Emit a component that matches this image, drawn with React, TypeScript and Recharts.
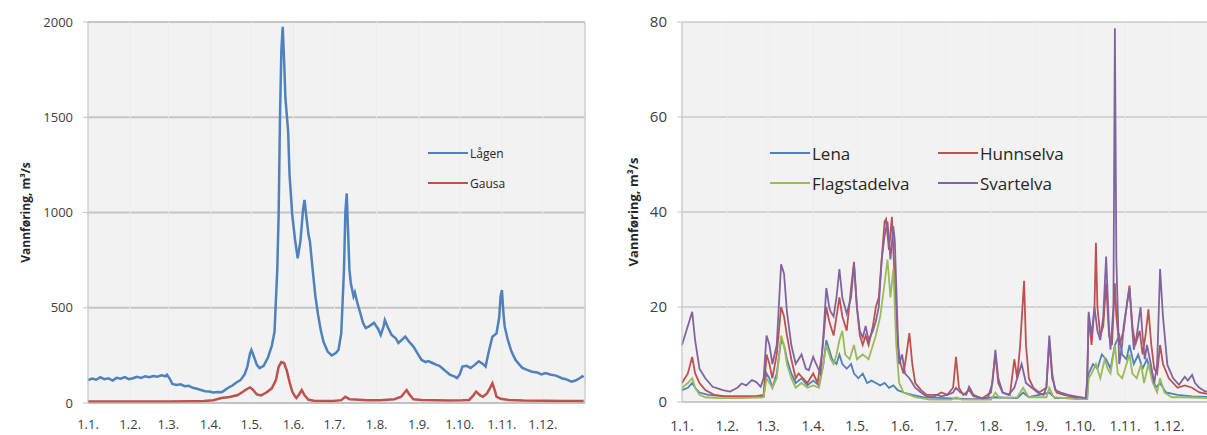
import React from 'react';
import { LineChart, Line, XAxis, YAxis, CartesianGrid, Legend, ReferenceLine } from 'recharts';

const FONT = '"Open Sans", "Liberation Sans", sans-serif';

// første dag i hver måned, dag 0 = 1. januar
const monthDays = [0, 31, 59, 90, 120, 151, 181, 212, 243, 273, 304, 334];
const monthLabels = ['1.1.', '1.2.', '1.3.', '1.4.', '1.5.', '1.6.', '1.7.', '1.8.', '1.9.', '1.10.', '1.11.', '1.12.'];

const bigRiverTicks = [0, 500, 1000, 1500, 2000];
const smallRiverTicks = [0, 20, 40, 60, 80];

// rekkefølge i tegnforklaringene
const bigRiverNames = ['Lågen', 'Gausa'];
const smallRiverNames = ['Lena', 'Hunnselva', 'Flagstadelva', 'Svartelva'];

// [dag, vannføring m³/s]
const lagen: [number, number][] = [
  [0, 120], [3, 128], [6, 122], [9, 135], [12, 125], [15, 130], [18, 118], [21, 132], [24, 128], [27, 136],
  [30, 125], [33, 130], [36, 138], [39, 132], [42, 140], [45, 135], [48, 142], [51, 138], [54, 145], [57, 140],
  [58, 148], [60, 128], [62, 100], [65, 95], [68, 98], [71, 88], [74, 90], [77, 80], [80, 75], [83, 68],
  [86, 62], [89, 60], [92, 55], [95, 58], [98, 56], [100, 65], [103, 80], [106, 92], [109, 108], [112, 120],
  [115, 150], [117, 190], [119, 260], [120, 278], [122, 240], [124, 200], [126, 183], [129, 195], [132, 236], [135, 300],
  [137, 375], [139, 700], [140, 987], [141, 1500], [142, 1850], [143, 1975], [144, 1800], [145, 1600], [147, 1424], [148, 1200],
  [150, 987], [152, 860], [154, 760], [156, 850], [158, 1020], [159, 1066], [160, 1000], [162, 880], [163, 847], [165, 700],
  [167, 560], [169, 462], [171, 380], [173, 320], [176, 270], [179, 250], [182, 262], [184, 280], [186, 367], [188, 700],
  [189, 1000], [190, 1100], [191, 900], [192, 700], [193, 630], [195, 560], [196, 580], [198, 520], [200, 472], [202, 420],
  [204, 393], [207, 405], [210, 421], [213, 390], [215, 357], [217, 400], [218, 435], [220, 400], [223, 357], [226, 340],
  [228, 315], [231, 335], [233, 348], [236, 320], [239, 296], [242, 260], [245, 226], [248, 215], [250, 220], [253, 210],
  [256, 200], [258, 195], [260, 184], [263, 165], [266, 147], [269, 140], [271, 131], [273, 150], [275, 191], [278, 195],
  [281, 184], [284, 200], [287, 219], [290, 205], [292, 191], [294, 260], [297, 348], [299, 360], [300, 365], [302, 450],
  [303, 560], [304, 593], [305, 480], [306, 402], [308, 340], [309, 315], [311, 270], [314, 226], [317, 200], [319, 184],
  [322, 175], [326, 164], [330, 160], [333, 150], [336, 157], [340, 148], [343, 145], [345, 140], [348, 130], [351, 125],
  [355, 112], [358, 118], [361, 130], [363, 140], [364, 135],
];

const gausa: [number, number][] = [
  [0, 8], [20, 8], [40, 8], [60, 8], [75, 9], [85, 10], [92, 15], [98, 26], [104, 32], [110, 42],
  [114, 60], [117, 75], [119, 82], [121, 70], [124, 45], [127, 40], [131, 55], [135, 77], [138, 120], [140, 190],
  [142, 215], [144, 210], [146, 170], [148, 110], [150, 60], [152, 35], [153, 26], [155, 45], [157, 68], [159, 40],
  [162, 17], [166, 12], [172, 10], [180, 10], [186, 15], [189, 33], [192, 20], [196, 18], [205, 14], [215, 14],
  [225, 20], [230, 33], [234, 68], [236, 45], [239, 20], [245, 16], [255, 14], [265, 13], [275, 14], [280, 16],
  [283, 40], [285, 60], [288, 40], [290, 33], [293, 50], [295, 75], [297, 104], [299, 60], [300, 33], [303, 22],
  [309, 16], [320, 13], [335, 12], [350, 11], [364, 10],
];

const lena: [number, number][] = [
  [0, 2.5], [4, 3], [7, 4], [9, 3], [12, 2], [18, 1.5], [30, 1.2], [45, 1.2], [56, 1.2], [58, 6],
  [60, 5], [62, 3], [65, 6], [68, 13], [70, 12], [72, 9], [75, 6], [78, 4], [82, 5], [86, 3.5],
  [90, 4.5], [94, 3.5], [97, 8], [99, 13], [101, 11], [103, 9], [106, 8], [108, 10], [110, 8], [113, 7],
  [116, 8], [118, 6], [121, 5], [124, 6], [127, 4], [130, 4.5], [133, 4], [136, 3.5], [139, 4], [142, 3],
  [145, 3.5], [148, 2.5], [152, 2], [158, 1.5], [165, 1], [180, 0.8], [200, 0.6], [215, 1], [230, 0.8], [234, 2],
  [238, 1], [252, 2], [256, 0.8], [278, 0.8], [279, 6], [282, 8], [285, 7], [288, 10], [291, 9], [294, 7],
  [297, 12], [300, 14], [302, 10], [305, 9], [307, 12], [310, 8], [313, 10], [316, 7], [319, 9], [322, 6],
  [325, 3], [328, 4], [332, 2], [340, 1.5], [350, 1.2], [364, 1],
];

const hunnselva: [number, number][] = [
  [0, 4], [4, 6], [7, 9.5], [9, 6], [12, 4], [16, 2.5], [22, 1.5], [30, 1.2], [40, 1.2], [50, 1.2],
  [56, 1.5], [58, 10], [60, 8], [62, 5], [65, 10], [68, 20], [70, 18], [72, 14], [75, 9], [78, 5],
  [80, 6], [83, 5], [86, 4], [90, 6], [93, 4], [96, 10], [99, 20], [101, 17], [104, 14], [106, 18],
  [108, 22], [110, 18], [113, 15], [116, 24], [118, 29.5], [120, 20], [122, 14], [124, 12], [126, 14], [128, 12],
  [131, 16], [133, 20], [135, 22], [137, 30], [139, 38], [140, 38.5], [142, 32], [144, 39], [146, 25], [148, 12],
  [150, 8], [152, 6], [154, 10], [156, 14.5], [158, 8], [160, 4], [164, 2.5], [168, 1.5], [175, 1.5], [178, 2],
  [182, 1.5], [186, 3], [188, 9.5], [190, 3], [193, 1.5], [197, 2.5], [200, 1.2], [206, 0.8], [212, 2], [215, 10],
  [217, 4], [220, 2], [225, 1.5], [228, 9], [230, 5], [232, 12], [234.7, 25.5], [236, 12], [238, 5], [241, 3],
  [245, 2], [250, 3], [252, 13], [254, 5], [257, 2], [262, 1.5], [270, 1], [277, 0.8], [278, 5], [279, 18],
  [281, 12], [283, 20], [284, 33.5], [285, 20], [287, 14], [289, 16], [291, 25], [293, 14], [295, 12], [297, 25],
  [298, 18], [300, 12], [303, 15], [305, 20], [307, 24.5], [309, 16], [311, 12], [314, 15], [316, 10], [318, 14],
  [320, 19.5], [322, 12], [324, 7], [326, 6], [328, 12], [330, 8], [334, 5], [340, 3], [345, 3.5], [350, 3],
  [355, 2], [364, 1.5],
];

const flagstadelva: [number, number][] = [
  [0, 3], [4, 4], [7, 5], [9, 3], [12, 1.5], [16, 1], [25, 0.8], [40, 0.8], [56, 1], [58, 5],
  [60, 4], [62, 3], [65, 5], [68, 14], [70, 12], [72, 8], [75, 5], [78, 3], [82, 4], [86, 3],
  [90, 3.5], [94, 3], [97, 8], [99, 12], [102, 9], [104, 8], [106, 10], [108, 13], [110, 15], [112, 10],
  [115, 9], [118, 12], [120, 9], [124, 10], [128, 9], [131, 12], [133, 14], [136, 18], [139, 25], [141, 30],
  [143, 22], [145, 28], [147, 12], [149, 4], [152, 2], [156, 1.5], [160, 1], [170, 0.5], [185, 0.5], [188, 1],
  [192, 0.5], [212, 0.5], [215, 2], [218, 0.8], [230, 1], [234, 3], [238, 1], [250, 1], [252, 3], [255, 1],
  [270, 0.6], [278, 0.6], [279, 5], [281, 6], [284, 8], [287, 5], [290, 9], [292, 7], [294, 6], [297, 12],
  [299, 6], [302, 5], [305, 8], [307, 10], [309, 6], [312, 5], [315, 8], [317, 4], [320, 8], [323, 4],
  [326, 2], [328, 5], [331, 2], [336, 1], [345, 1], [364, 0.8],
];

const svartelva: [number, number][] = [
  [0, 12], [3, 15], [5, 17], [7, 19], [9, 13], [12, 7], [16, 5], [21, 3.2], [28, 2.5], [33, 2.2],
  [38, 3], [41, 3.9], [44, 3.5], [48, 4.6], [51, 4.2], [54, 3.2], [56, 5], [58, 14], [60, 12], [62, 8],
  [65, 12], [68, 29], [70, 27], [72, 19], [75, 12], [78, 8], [80, 9], [82, 10], [85, 7], [87, 6.7],
  [90, 9.5], [92, 8], [95, 6], [97, 14], [99, 24], [101, 20], [102, 19], [104, 18], [106, 22], [108, 28],
  [110, 22], [113, 18.6], [116, 22], [118, 29], [120, 20], [122, 15], [124, 13.6], [126, 16], [128, 13], [131, 15],
  [133, 17], [135, 20], [137, 30], [139, 35], [141, 38], [143, 30], [145, 37], [146, 34], [148, 15], [149, 8],
  [151, 10], [153, 6], [156, 5], [160, 3], [164, 2], [168, 1.2], [172, 1], [175, 1.5], [178, 1.2], [182, 1.5],
  [186, 2], [188, 3], [191, 2], [195, 1.5], [197, 3.2], [200, 1.5], [206, 0.7], [210, 1], [213, 4], [215, 11],
  [217, 5], [220, 2], [224, 1.5], [228, 3], [231, 6], [233, 8], [236, 4], [240, 3], [244, 2], [248, 1.5],
  [250, 3], [252, 14], [254, 6], [256, 2.5], [260, 2], [265, 1.5], [270, 1.2], [277, 0.8], [278, 4], [279, 19],
  [281, 14], [283, 20], [285, 15], [287, 13], [289, 18], [291, 30.6], [293, 15], [294, 11], [296, 20], [297, 78.7],
  [298, 30], [300, 8], [302, 12], [303, 16], [305, 20], [307, 24], [309, 15], [310, 11], [312, 14], [314.6, 20],
  [316, 14], [317.5, 9], [319, 12], [321, 9], [324, 4], [326, 8], [328, 28], [330, 18], [333, 7.8], [337, 5],
  [341, 3.6], [343, 4.5], [345, 5.3], [347, 4.5], [350, 5.7], [352, 4], [355, 3], [359, 2.2], [364, 2.5],
];

const toPoints = (rows: [number, number][]) => rows.map(([day, q]) => ({ day, q }));

const monthLabel = (day: number) => monthLabels[monthDays.indexOf(day)] ?? '';

const AxisTitle = (props: any) => {
  const { viewBox, text, offsetX, fontSize } = props;
  const cx = viewBox.x + offsetX;
  const cy = viewBox.y + viewBox.height / 2;
  return (
    <text
      x={cx}
      y={cy}
      transform={`rotate(-90 ${cx} ${cy})`}
      textAnchor="middle"
      dominantBaseline="central"
      fontFamily={FONT}
      fontWeight="bold"
      fontSize={fontSize}
      fill="#262626"
    >
      {text}
    </text>
  );
};

// egen tegnforklaring: strek + navn, fylt rad for rad
const LegendBox = (props: any) => {
  const { payload, order, columns, colWidth, fontSize } = props;
  const items = [...(payload || [])].sort(
    (a: any, b: any) => order.indexOf(a.value) - order.indexOf(b.value)
  );
  return (
    <div
      style={{
        display: 'grid',
        gridTemplateColumns: `repeat(${columns}, ${colWidth}px)`,
        fontFamily: FONT,
      }}
    >
      {items.map((p: any) => (
        <div key={p.value} style={{ display: 'flex', alignItems: 'center', height: 30 }}>
          <span style={{ width: 40, borderTop: `2.5px solid ${p.color}`, marginRight: 2 }} />
          <span style={{ fontSize, color: '#262626', whiteSpace: 'nowrap' }}>{p.value}</span>
        </div>
      ))}
    </div>
  );
};

const tickStyle = (size: number) => ({ fill: '#404040', fontSize: size, fontFamily: FONT });

export default function App() {
  return (
    <div
      style={{
        position: 'absolute',
        left: 0,
        top: 0,
        width: 1207,
        height: 435,
        overflow: 'hidden',
        background: '#ffffff',
      }}
    >
      {/* Lågen og Gausa */}
      <div style={{ position: 'absolute', left: 0, top: 0 }}>
        <LineChart width={600} height={435} margin={{ top: 22, right: 15, bottom: 7, left: 0 }}>
          <CartesianGrid vertical={false} stroke="#c4c4c4" strokeWidth={2} fill="#f2f2f2" />
          <CartesianGrid horizontal={false} stroke="#ebebeb" strokeWidth={1} />
          <XAxis
            type="number"
            dataKey="day"
            domain={[0, 365]}
            ticks={monthDays}
            interval={0}
            tickFormatter={monthLabel}
            height={25}
            tickSize={5}
            tickMargin={12}
            tickLine={false}
            axisLine={{ stroke: '#bfbfbf' }}
            tick={tickStyle(13)}
          />
          <YAxis
            type="number"
            domain={[0, 2000]}
            ticks={bigRiverTicks}
            interval={0}
            width={88}
            tickSize={5}
            tickMargin={10}
            tickLine={{ stroke: '#c4c4c4' }}
            axisLine={{ stroke: '#bfbfbf' }}
            tick={tickStyle(13)}
            label={<AxisTitle text="Vannføring, m³/s" offsetX={25} fontSize={12} />}
          />
          <ReferenceLine x={365} stroke="#bfbfbf" />
          <Legend
            layout="horizontal"
            verticalAlign="middle"
            align="center"
            wrapperStyle={{ left: 428, top: 138, width: 120 }}
            content={<LegendBox order={bigRiverNames} columns={1} colWidth={120} fontSize={12} />}
          />
          <Line data={toPoints(lagen)} dataKey="q" name="Lågen" type="linear" stroke="#4f81bd" strokeWidth={2.5} dot={false} isAnimationActive={false} />
          <Line data={toPoints(gausa)} dataKey="q" name="Gausa" type="linear" stroke="#c0504d" strokeWidth={2.5} dot={false} isAnimationActive={false} />
        </LineChart>
      </div>

      {/* mindre vassdrag */}
      <div style={{ position: 'absolute', left: 600, top: 0 }}>
        <LineChart width={620} height={435} margin={{ top: 22, right: 6, bottom: 8, left: 0 }}>
          <CartesianGrid vertical={false} stroke="#c8c8c8" strokeWidth={1.5} fill="#f2f2f2" />
          <CartesianGrid horizontal={false} stroke="#ececec" strokeWidth={1} />
          <XAxis
            type="number"
            dataKey="day"
            domain={[0, 365]}
            ticks={monthDays}
            interval={0}
            tickFormatter={monthLabel}
            height={25}
            tickSize={5}
            tickMargin={14}
            tickLine={false}
            axisLine={{ stroke: '#bfbfbf' }}
            tick={tickStyle(14)}
          />
          <YAxis
            type="number"
            domain={[0, 80]}
            ticks={smallRiverTicks}
            interval={0}
            width={82}
            tickSize={5}
            tickMargin={10}
            tickLine={{ stroke: '#c8c8c8' }}
            axisLine={{ stroke: '#bfbfbf' }}
            tick={tickStyle(15)}
            label={<AxisTitle text="Vannføring, m³/s" offsetX={33} fontSize={13} />}
          />
          <Legend
            layout="horizontal"
            verticalAlign="middle"
            align="center"
            wrapperStyle={{ left: 170, top: 138, width: 340 }}
            content={<LegendBox order={smallRiverNames} columns={2} colWidth={168} fontSize={17} />}
          />
          <Line data={toPoints(lena)} dataKey="q" name="Lena" type="linear" stroke="#4f81bd" strokeWidth={1.8} dot={false} isAnimationActive={false} />
          <Line data={toPoints(hunnselva)} dataKey="q" name="Hunnselva" type="linear" stroke="#c0504d" strokeWidth={1.8} dot={false} isAnimationActive={false} />
          <Line data={toPoints(flagstadelva)} dataKey="q" name="Flagstadelva" type="linear" stroke="#9bbb59" strokeWidth={1.8} dot={false} isAnimationActive={false} />
          <Line data={toPoints(svartelva)} dataKey="q" name="Svartelva" type="linear" stroke="#8064a2" strokeWidth={1.8} dot={false} isAnimationActive={false} />
        </LineChart>
      </div>
    </div>
  );
}
